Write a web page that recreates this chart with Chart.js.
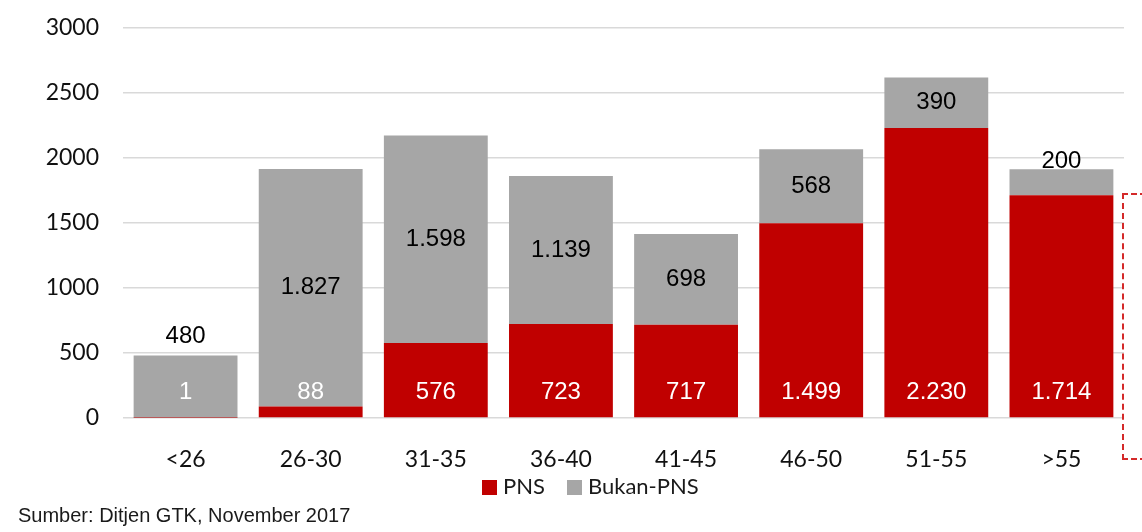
<!DOCTYPE html>
<html>
<head>
<meta charset="utf-8">
<script src="https://cdn.jsdelivr.net/npm/chart.js@4/dist/chart.umd.min.js"></script>
<style>
  html, body { margin: 0; padding: 0; background: #fff; }
  #wrap { position: relative; width: 1142px; height: 532px; overflow: hidden; }
  #c { position: absolute; left: 0; top: 0; }
  #legend { position: absolute; left: 482px; top: 472px; font: 22px Lato, "Open Sans", sans-serif; color: #1a1a1a; white-space: nowrap; }
  #legend span.sw { display: inline-block; width: 15px; height: 15px; vertical-align: -1px; margin-right: 6px; }
  #legend span.it { margin-right: 22px; }
  #source { position: absolute; left: 18px; top: 504px; font: 20px "Liberation Sans", Arial, sans-serif; color: #1a1a1a; }
  #dash { position: absolute; left: 1122px; top: 193px; width: 40px; height: 263px; border: 2px dashed #d42a2a; border-right: none; }
</style>
</head>
<body>
<div id="wrap">
  <canvas id="c" width="1142" height="532"></canvas>
  <div id="legend"><span class="sw" style="background:#c00000"></span><span class="it">PNS</span><span class="sw" style="background:#a6a6a6"></span><span>Bukan-PNS</span></div>
  <div id="source">Sumber: Ditjen GTK, November 2017</div>
  <div id="dash"></div>
</div>
<script>
// kelompok umur
const ageGroups = ['<26','26-30','31-35','36-40','41-45','46-50','51-55','>55'];
const pns      = [1, 88, 576, 723, 717, 1499, 2230, 1714];
const bukanPns = [480, 1827, 1598, 1139, 698, 568, 390, 200];
// where the Bukan-PNS label sits: 'mid' = middle of segment
const bukanLabelPos = ['above','mid','mid','mid','mid','mid','mid','top'];
const yTicks = [0, 500, 1000, 1500, 2000, 2500, 3000];

const fmt = v => String(v).replace(/\B(?=(\d{3})+(?!\d))/g, '.');

const barLabels = {
  id: 'barLabels',
  afterDatasetsDraw(chart) {
    const ctx = chart.ctx;
    const y = chart.scales.y;
    const base = y.getPixelForValue(0);
    ctx.save();
    ctx.font = '24px "Liberation Sans", Arial, sans-serif';
    ctx.textAlign = 'center';
    ctx.textBaseline = 'middle';
    const m0 = chart.getDatasetMeta(0), m1 = chart.getDatasetMeta(1);
    ageGroups.forEach((g, i) => {
      const x = m0.data[i].x;
      ctx.fillStyle = '#ffffff';
      ctx.fillText(fmt(pns[i]), x, base - 26);
      const top = y.getPixelForValue(pns[i] + bukanPns[i]);
      const bot = y.getPixelForValue(pns[i]);
      let ly = (top + bot) / 2;
      if (bukanLabelPos[i] === 'above') ly = top - 19;
      if (bukanLabelPos[i] === 'top') ly = top - 8;
      ctx.fillStyle = '#000000';
      ctx.fillText(fmt(bukanPns[i]), m1.data[i].x, ly);
    });
    ctx.restore();
  }
};

new Chart(document.getElementById('c'), {
  type: 'bar',
  data: {
    labels: ageGroups,
    datasets: [
      { label: 'PNS', data: pns, backgroundColor: '#c00000' },
      { label: 'Bukan-PNS', data: bukanPns, backgroundColor: '#a6a6a6' }
    ]
  },
  options: {
    responsive: false,
    animation: false,
    datasets: { bar: { categoryPercentage: 1, barPercentage: 0.83 } },
    layout: { padding: { left: 0, right: 18, top: 28, bottom: 64 } },
    plugins: { legend: { display: false }, tooltip: { enabled: false } },
    scales: {
      x: {
        stacked: true,
        grid: { display: false },
        border: { display: false },
        ticks: { color: '#111', font: { family: 'Lato, "Open Sans", sans-serif', size: 23 }, padding: 20 },
        afterFit: s => { s.height = 50; }
      },
      y: {
        stacked: true,
        min: 0, max: 3000,
        afterBuildTicks: s => { s.ticks = yTicks.map(v => ({ value: v })); },
        grid: { color: '#d9d9d9', lineWidth: 1.5, drawTicks: false },
        border: { display: false },
        ticks: { color: '#111', font: { family: 'Lato, "Open Sans", sans-serif', size: 23 }, padding: 24, callback: v => String(v) },
        afterFit: s => { s.width = 123; s.paddingTop = 0; s.paddingBottom = 0; }
      }
    }
  },
  plugins: [barLabels]
});
</script>
</body>
</html>
